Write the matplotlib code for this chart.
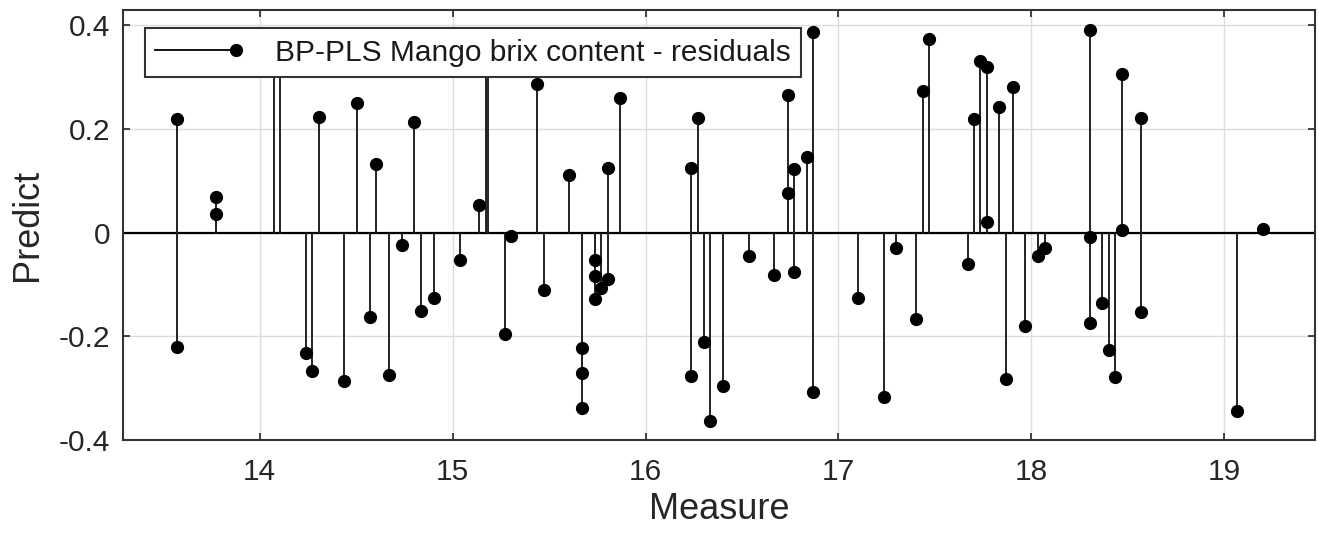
import matplotlib
matplotlib.use("Agg")
import matplotlib.pyplot as plt
from matplotlib.lines import Line2D
from matplotlib.legend_handler import HandlerBase

plt.rcParams['font.family'] = ['Liberation Sans', 'DejaVu Sans']
plt.rcParams['axes.unicode_minus'] = False

# measured brix vs residual (several samples share the same measure value)
measure = [13.573, 13.573, 13.773, 13.773, 14.072, 14.103, 14.240, 14.271,
           14.307, 14.438, 14.504, 14.572, 14.605, 14.672, 14.738, 14.802,
           14.836, 14.902, 15.040, 15.139, 15.175, 15.183, 15.271, 15.303,
           15.438, 15.473, 15.604, 15.670, 15.670, 15.670, 15.736, 15.736,
           15.736, 15.771, 15.805, 15.805, 15.870, 16.238, 16.238, 16.270,
           16.303, 16.334, 16.404, 16.537, 16.667, 16.736, 16.736, 16.767,
           16.767, 16.836, 16.869, 16.869, 17.101, 17.234, 17.299, 17.402,
           17.436, 17.469, 17.670, 17.703, 17.734, 17.769, 17.769, 17.834,
           17.869, 17.903, 17.969, 18.033, 18.071, 18.303, 18.303, 18.303,
           18.367, 18.402, 18.434, 18.467, 18.467, 18.568, 18.568, 19.067,
           19.201]
residual = [0.218, -0.220, 0.069, 0.036, 0.36, 0.37, -0.232, -0.266,
            0.222, -0.286, 0.249, -0.162, 0.133, -0.275, -0.024, 0.213,
            -0.151, -0.126, -0.053, 0.053, 0.36, 0.38, -0.196, -0.007,
            0.286, -0.110, 0.111, -0.223, -0.270, -0.338, -0.052, -0.083,
            -0.129, -0.106, 0.125, -0.090, 0.260, 0.124, -0.277, 0.221,
            -0.210, -0.363, -0.296, -0.045, -0.081, 0.266, 0.077, 0.122,
            -0.077, 0.146, 0.387, -0.307, -0.127, -0.317, -0.029, -0.167,
            0.273, 0.373, -0.061, 0.218, 0.331, 0.320, 0.020, 0.241,
            -0.283, 0.281, -0.180, -0.045, -0.029, 0.390, -0.008, -0.174,
            -0.135, -0.226, -0.279, 0.306, 0.005, 0.220, -0.154, -0.344,
            0.007]

xticks = [14, 15, 16, 17, 18, 19]
yticks = [-0.4, -0.2, 0, 0.2, 0.4]
ytick_labels = ['-0.4', '-0.2', '0', '0.2', '0.4']
legend_label = 'BP-PLS Mango brix content - residuals'


class StemLegend(HandlerBase):
    # matlab style: horizontal line with the dot at the right end
    def create_artists(self, legend, orig, xdescent, ydescent, width, height,
                       fontsize, trans):
        y = height / 2 - ydescent
        line = Line2D([-xdescent, width - xdescent], [y, y], color='black',
                      lw=1.3, transform=trans)
        dot = Line2D([width - xdescent], [y], marker='o', color='black',
                     ms=8.5, ls='none', transform=trans)
        return [line, dot]


fig = plt.figure(figsize=(13.19, 5.38), dpi=100)
ax = fig.add_axes([0.093, 0.182, 0.904, 0.7995])

ax.axhline(0, color='black', lw=1.6, zorder=2)
mk, st, bl = ax.stem(measure, residual, linefmt='-', markerfmt='o', basefmt=' ')
plt.setp(st, color='#222222', linewidth=1.4, zorder=3)
plt.setp(mk, color='black', markersize=8.5, zorder=4)
bl.set_visible(False)

ax.set_xlim(13.29, 19.47)
ax.set_ylim(-0.4, 0.429)
ax.set_xticks(xticks)
ax.set_yticks(yticks)
ax.set_yticklabels(ytick_labels)
ax.grid(True, color='#dcdcdc', lw=1.0)
ax.set_axisbelow(True)
ax.tick_params(direction='in', top=True, right=True, length=5, width=1.2,
               labelsize=21.5, colors='#262626', pad=9)
ax.tick_params(axis='x', pad=13)
for sp in ax.spines.values():
    sp.set_color('#333333')
    sp.set_linewidth(1.5)

ax.set_xlabel('Measure', fontsize=26, color='#262626', labelpad=4)
ax.set_ylabel('Predict', fontsize=26, color='#262626', labelpad=10)

leg = ax.legend([mk], [legend_label], handler_map={type(mk): StemLegend()},
                loc='upper left', bbox_to_anchor=(0.0187, 0.957),
                borderaxespad=0, fancybox=False, framealpha=1,
                edgecolor='#333333', fontsize=21.5, handlelength=2.7,
                handletextpad=1.3, borderpad=0.35)
leg.get_frame().set_linewidth(1.5)
leg.set_zorder(10)
for t in leg.get_texts():
    t.set_color('#1a1a1a')

fig.savefig('out.png', dpi=100)
